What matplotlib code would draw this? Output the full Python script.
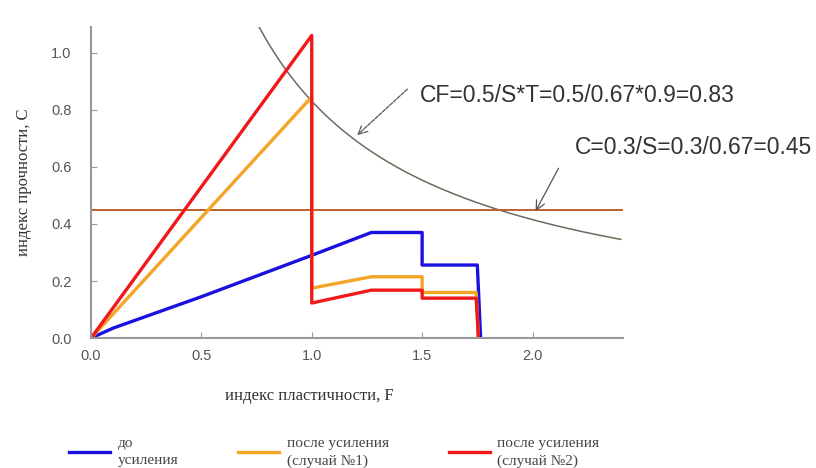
import numpy as np
import matplotlib
matplotlib.use("Agg")
import matplotlib.pyplot as plt

# до усиления
f_before = [0.0, 0.1, 0.5, 1.0, 1.27, 1.5, 1.5, 1.75, 1.765]
c_before = [0.0, 0.035, 0.145, 0.29, 0.37, 0.37, 0.256, 0.256, 0.0]

# после усиления (случай №1)
f_case1 = [0.0, 1.0, 1.0, 1.27, 1.5, 1.5, 1.745, 1.755]
c_case1 = [0.0, 0.845, 0.175, 0.215, 0.215, 0.16, 0.16, 0.0]

# после усиления (случай №2)
f_case2 = [0.0, 1.0, 1.0, 1.27, 1.5, 1.5, 1.745, 1.755]
c_case2 = [0.0, 1.06, 0.123, 0.168, 0.168, 0.14, 0.14, 0.0]

c_limit = 0.45   # C=0.3/S
cf_limit = 0.83  # CF=0.5/S*T

labels = ["до\nусиления", "после усиления\n(случай №1)", "после усиления\n(случай №2)"]

fig = plt.figure(figsize=(8.16, 4.68), dpi=100)
ax = fig.add_axes([0.1115, 0.2775, 0.652, 0.665])

f_curve = np.linspace(0.76, 2.4, 200)
ax.plot(f_curve, cf_limit / f_curve, color="#6e6a5c", lw=1.1)
ax.axhline(c_limit, color="#c0602e", lw=1.4)

ax.plot(f_before, c_before, color="#1a10e0", lw=2.4, label=labels[0])
ax.plot(f_case1, c_case1, color="#f2a526", lw=2.4, label=labels[1])
ax.plot(f_case2, c_case2, color="#f01818", lw=2.4, label=labels[2])

ax.set_xlim(0, 2.41)
ax.set_ylim(0, 1.09)
ax.set_xticks([0.0, 0.5, 1.0, 1.5, 2.0])
ax.set_yticks([0.0, 0.2, 0.4, 0.6, 0.8, 1.0])
ax.set_xticklabels(["0.0", "0.5", "1.0", "1.5", "2.0"])
ax.set_yticklabels(["0.0", "0.2", "0.4", "0.6", "0.8", "1.0"])
for s in ["top", "right"]:
    ax.spines[s].set_visible(False)
for s in ["left", "bottom"]:
    ax.spines[s].set_color("#999999")
    ax.spines[s].set_linewidth(1.5)
ax.tick_params(direction="in", length=4, color="#999999", labelsize=10.5,
               labelcolor="#555555", labelfontfamily="Liberation Sans", pad=8)
ax.tick_params(axis="y", pad=14)

ax.set_xlabel("индекс пластичности, F", family="Liberation Serif", fontsize=12,
              color="#333333")
ax.xaxis.set_label_coords(0.41, -0.16)
ax.set_ylabel("индекс прочности, С", family="Liberation Serif", fontsize=12,
              color="#333333")
ax.yaxis.set_label_coords(-0.11, 0.5)

# подписи
ax.text(1.49, 0.85, "CF=0.5/S*T=0.5/0.67*0.9=0.83", fontsize=16.5,
        family="Liberation Sans", color="#333333", va="center", ha="left")
ax.text(2.19, 0.667, "C=0.3/S=0.3/0.67=0.45", fontsize=16.5,
        family="Liberation Sans", color="#333333", va="center", ha="left",
        clip_on=False)
ax.annotate("", xy=(1.206, 0.711), xytext=(1.433, 0.872),
            arrowprops=dict(arrowstyle="->", color="#555555", lw=0.9,
                            ls=(0, (3, 1)), shrinkA=0, shrinkB=0,
                            mutation_scale=16))
ax.annotate("", xy=(2.014, 0.445), xytext=(2.118, 0.595),
            arrowprops=dict(arrowstyle="->", color="#555555", lw=0.9,
                            shrinkA=0, shrinkB=0, mutation_scale=16))

leg = fig.legend(loc="center left", bbox_to_anchor=(0.0674, 0.034), ncol=3,
                 frameon=False, prop={"family": "Liberation Serif", "size": 11},
                 handlelength=2.7, columnspacing=3.9, handletextpad=0.5,
                 labelspacing=0.1)
for t in leg.get_texts():
    t.set_color("#444444")
    t.set_linespacing(1.45)

fig.savefig("out.png", dpi=100)
